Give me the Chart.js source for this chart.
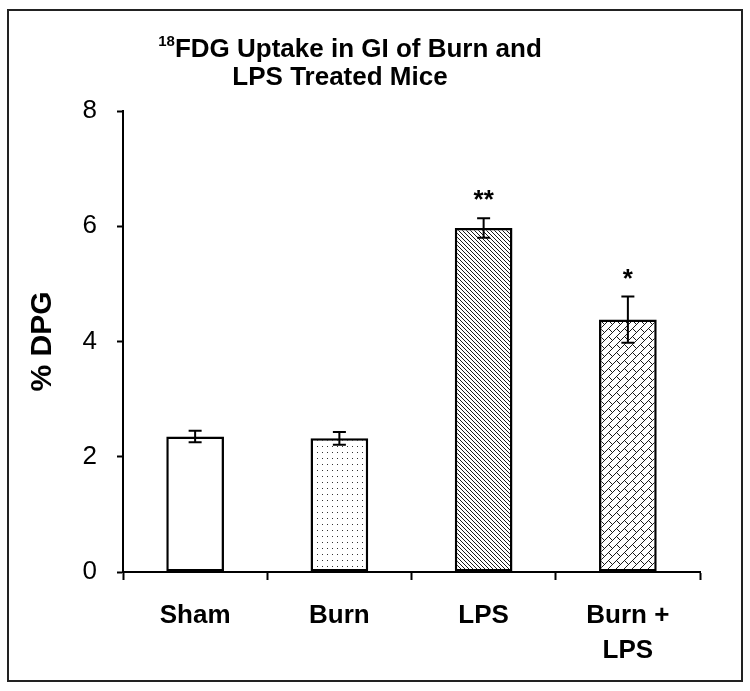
<!DOCTYPE html>
<html>
<head>
<meta charset="utf-8">
<script src="https://cdn.jsdelivr.net/npm/chart.js@4/dist/chart.umd.min.js"></script>
<style>
  html, body { margin: 0; padding: 0; background: #fff; overflow: hidden; }
  canvas { display: block; }
</style>
</head>
<body>
<canvas id="chart" width="750" height="691"></canvas>
<script>
// data
const categories = ["Sham", "Burn", "LPS", ["Burn +", "LPS"]];
const meanDPG = [2.35, 2.32, 5.97, 4.38];
const semDPG = [0.10, 0.11, 0.17, 0.40];
const sigMarks = ["", "", "**", "*"];
const yMin = 0;
const yMax = 8;
const yStep = 2;
const titleSup = "18";
const titleLine1 = "FDG Uptake in GI of Burn and";
const titleLine2 = "LPS Treated Mice";
const yTitle = "% DPG";

Chart.defaults.font.family = "'Liberation Sans', Arial, sans-serif";
Chart.defaults.color = "#000";

// fill patterns for the bars
function makeTile(w, h, paint) {
  const c = document.createElement("canvas");
  c.width = w;
  c.height = h;
  const g = c.getContext("2d");
  g.fillStyle = "#fff";
  g.fillRect(0, 0, w, h);
  paint(g);
  return g.createPattern(c, "repeat");
}

const dots = makeTile(5, 6, g => {
  g.fillStyle = "#333";
  g.fillRect(2, 2, 1, 1);
});

const hatch = makeTile(4, 4, g => {
  g.fillStyle = "#1a1a1a";
  for (let i = 0; i < 4; i++) g.fillRect(i, i, 1, 1);
});

// diagonal bricks: long "/" lines with short "\" ties, staggered per row
const brick = makeTile(16, 16, g => {
  g.fillStyle = "#1a1a1a";
  for (let x = 0; x < 16; x++) {
    for (let y = 0; y < 16; y++) {
      const u = (x + y) % 16;
      const v = ((x - y) % 16 + 16) % 16;
      const band = Math.floor(u / 8);
      if (u % 8 === 0) g.fillRect(x, y, 1, 1);
      else if ((band === 0 && v === 0) || (band === 1 && v === 8)) g.fillRect(x, y, 1, 1);
    }
  }
});

const extras = {
  id: "extras",
  beforeDraw(chart) {
    const c = chart.ctx;
    c.save();
    c.fillStyle = "#fff";
    c.fillRect(0, 0, chart.width, chart.height);
    c.restore();
  },
  afterDatasetsDraw(chart) {
    const c = chart.ctx;
    const y = chart.scales.y;
    const meta = chart.getDatasetMeta(0);
    c.save();
    c.strokeStyle = "#000";
    c.lineWidth = 2;
    meta.data.forEach((bar, i) => {
      const top = y.getPixelForValue(meanDPG[i] + semDPG[i]);
      const bot = y.getPixelForValue(meanDPG[i] - semDPG[i]);
      c.beginPath();
      c.moveTo(bar.x, top);
      c.lineTo(bar.x, bot);
      c.moveTo(bar.x - 6.5, top);
      c.lineTo(bar.x + 6.5, top);
      c.moveTo(bar.x - 6.5, bot);
      c.lineTo(bar.x + 6.5, bot);
      c.stroke();
      if (sigMarks[i]) {
        c.fillStyle = "#000";
        c.font = "bold 26px 'Liberation Sans', Arial";
        c.textAlign = "center";
        c.textBaseline = "alphabetic";
        c.fillText(sigMarks[i], bar.x, top - 10);
      }
    });
    c.restore();
  },
  afterDraw(chart) {
    const c = chart.ctx;
    c.save();
    c.fillStyle = "#000";
    c.textBaseline = "alphabetic";
    // two-line title with superscript
    const supFont = "bold 15px 'Liberation Sans', Arial";
    const mainFont = "bold 26px 'Liberation Sans', Arial";
    c.font = supFont;
    const ws = c.measureText(titleSup).width;
    c.font = mainFont;
    const wm = c.measureText(titleLine1).width;
    const x0 = 350 - (ws + wm) / 2;
    c.textAlign = "left";
    c.font = supFont;
    c.fillText(titleSup, x0, 46);
    c.font = mainFont;
    c.fillText(titleLine1, x0 + ws, 57);
    c.textAlign = "center";
    c.fillText(titleLine2, 340, 85);
    // frame around the figure
    c.strokeStyle = "#222";
    c.lineWidth = 2;
    c.strokeRect(8, 10, 734, 671);
    c.restore();
  }
};

new Chart(document.getElementById("chart"), {
  type: "bar",
  data: {
    labels: categories,
    datasets: [{
      data: meanDPG,
      backgroundColor: ["#fff", dots, hatch, brick],
      borderColor: "#000",
      borderWidth: 2.5,
      borderSkipped: false,
      barPercentage: 0.4,
      categoryPercentage: 1
    }]
  },
  options: {
    responsive: false,
    animation: false,
    layout: { padding: { left: 0, right: 50, top: 111, bottom: 0 } },
    plugins: {
      legend: { display: false },
      tooltip: { enabled: false }
    },
    scales: {
      x: {
        grid: { drawOnChartArea: false, offset: true, tickLength: 8, tickColor: "#000", tickWidth: 2 },
        border: { color: "#000", width: 2 },
        ticks: {
          color: "#000",
          font: { size: 26, weight: "bold", lineHeight: 1.35 },
          padding: 18,
          maxRotation: 0,
          autoSkip: false
        },
        afterFit: s => { s.height = 119; }
      },
      y: {
        min: yMin,
        max: yMax,
        ticks: { stepSize: yStep, color: "#000", font: { size: 26 }, padding: 20 },
        grid: { drawOnChartArea: false, tickLength: 6, tickColor: "#000", tickWidth: 2 },
        border: { color: "#000", width: 2 },
        title: {
          display: true,
          text: yTitle,
          color: "#000",
          font: { size: 30, weight: "bold" },
          padding: { top: 25, bottom: 0 }
        },
        afterFit: s => { s.width = 123; }
      }
    }
  },
  plugins: [extras]
});
</script>
</body>
</html>
